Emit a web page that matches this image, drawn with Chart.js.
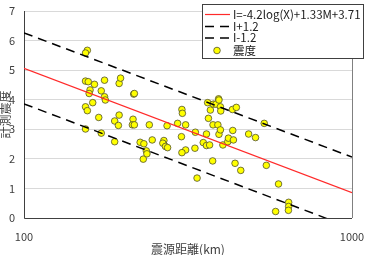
<!DOCTYPE html>
<html><head><meta charset="utf-8">
<script src="https://cdn.jsdelivr.net/npm/chart.js@4"></script>
<style>html,body{margin:0;padding:0;background:#fff}#wrap{width:365px;height:255px}</style>
</head><body><div id="wrap"><canvas id="c" width="365" height="255"></canvas></div>
<script>
// Observed data: hypocentral distance (km) and measured seismic intensity
const distances = [156,154,154,157,164,159,158,176,172,176,177,162,154,156,154,169,172,189,189,195,194,195,197,216,217,215,214,217,226,232,236,237,231,246,241,267,265,270,274,273,294,303,304,311,302,311,303,333,332,337,352,360,360,368,363,370,365,377,376,378,385,392,393,397,398,390,393,397,404,418,420,433,435,432,444,440,458,484,508,540,548,597,585,641,641,640];
const intensities = [5.67,5.58,4.63,4.61,4.52,4.33,4.21,4.66,4.30,4.10,3.99,3.90,3.76,3.63,3.01,3.40,2.87,2.58,3.28,3.48,3.13,4.55,4.73,4.19,4.21,3.34,3.15,3.15,2.56,2.51,2.27,2.17,1.99,2.64,3.15,2.62,2.53,2.42,2.38,3.12,3.20,3.67,3.54,3.15,2.75,2.30,2.21,2.90,2.36,1.35,2.55,2.84,2.45,2.47,3.90,3.65,3.37,3.15,1.93,3.85,3.85,4.03,3.99,3.76,3.62,3.15,2.83,2.98,2.47,2.58,2.70,2.96,2.64,3.67,3.74,1.85,1.61,2.84,2.72,3.20,1.78,1.15,0.22,0.53,0.39,0.26];
// Attenuation relation lines (end points)
const lineX = [100, 1000];
const meanI = [5.06, 0.86];
const upperI = [6.26, 2.06];
const lowerI = [3.86, -0.34];
const xTicks = [100, 1000];
const yTicks = [0,1,2,3,4,5,6,7];
const labels = ['I=-4.2log(X)+1.33M+3.71', 'I+1.2', 'I-1.2', '震度'];

const FONT = "'Noto Sans CJK JP', 'Noto Sans', sans-serif";
const TXT = '#404040';
const pts = (xs, ys) => xs.map((x, i) => ({x, y: ys[i]}));

const legendPlugin = {
  id: 'boxLegend',
  afterDraw(chart) {
    const ctx = chart.ctx;
    const ds = chart.data.datasets;
    const bx = 202.5, by = 4.5, bw = 161, bh = 54;
    ctx.save();
    ctx.fillStyle = '#fff';
    ctx.fillRect(bx, by, bw, bh);
    ctx.strokeStyle = '#404040';
    ctx.lineWidth = 1;
    ctx.strokeRect(bx, by, bw, bh);
    const rows = [14.5, 26.5, 38, 50.5];
    ds.forEach((d, i) => {
      const y = rows[i];
      ctx.save();
      if (d.showLine) {
        ctx.strokeStyle = d.borderColor;
        ctx.lineWidth = d.borderWidth;
        ctx.setLineDash(d.borderDash || []);
        ctx.beginPath(); ctx.moveTo(205, y); ctx.lineTo(230, y); ctx.stroke();
      } else {
        ctx.fillStyle = d.backgroundColor;
        ctx.strokeStyle = d.borderColor;
        ctx.lineWidth = d.borderWidth;
        ctx.beginPath(); ctx.arc(217, y, d.pointRadius, 0, Math.PI * 2); ctx.fill(); ctx.stroke();
      }
      ctx.restore();
      ctx.fillStyle = '#202020';
      ctx.font = '11.5px ' + FONT;
      ctx.textBaseline = 'middle';
      ctx.textAlign = 'left';
      ctx.fillText(d.label, 233, y);
    });
    ctx.restore();
  }
};

const borderPlugin = {
  id: 'areaBorder',
  beforeDatasetsDraw(chart) {
    const a = chart.chartArea, ctx = chart.ctx;
    ctx.save();
    ctx.strokeStyle = '#808080'; ctx.lineWidth = 1;
    ctx.beginPath();
    ctx.moveTo(Math.round(a.right) + 0.5, a.top); ctx.lineTo(Math.round(a.right) + 0.5, a.bottom);
    ctx.stroke();
    ctx.strokeStyle = '#404040';
    ctx.beginPath();
    ctx.moveTo(Math.round(a.left) + 0.5, a.top); ctx.lineTo(Math.round(a.left) + 0.5, a.bottom + 0.5);
    ctx.lineTo(a.right, Math.round(a.bottom) + 0.5);
    ctx.stroke();
    ctx.restore();
  }
};

new Chart(document.getElementById('c'), {
  type: 'scatter',
  data: {
    datasets: [
      {label: labels[0], data: pts(lineX, meanI), showLine: true, borderColor: '#ff2a2a', borderWidth: 1.2, pointRadius: 0, fill: false},
      {label: labels[1], data: pts(lineX, upperI), showLine: true, borderColor: '#000', borderWidth: 1.5, borderDash: [9, 6], pointRadius: 0, fill: false},
      {label: labels[2], data: pts(lineX, lowerI), showLine: true, borderColor: '#000', borderWidth: 1.5, borderDash: [9, 6], pointRadius: 0, fill: false},
      {label: labels[3], data: pts(distances, intensities), showLine: false, backgroundColor: '#ffff00', borderColor: '#505030', borderWidth: 0.8, pointRadius: 3.3}
    ]
  },
  options: {
    responsive: false,
    animation: false,
    devicePixelRatio: 1,
    layout: {padding: {left: 0, right: 13, top: 11, bottom: 0}},
    plugins: {legend: {display: false}, tooltip: {enabled: false}},
    scales: {
      x: {
        type: 'logarithmic', min: 100, max: 1000,
        afterBuildTicks: s => { s.ticks = xTicks.map(v => ({value: v})); },
        afterFit: s => { s.height = 37; s.paddingLeft = 0; s.paddingRight = 0; },
        grid: {display: false, drawTicks: false},
        border: {display: false},
        ticks: {color: TXT, font: {family: FONT, size: 11}, padding: 12, maxRotation: 0, autoSkip: false, callback: v => String(v)},
        title: {display: true, text: '震源距離(km)', color: TXT, font: {family: FONT, size: 12, lineHeight: 1}, padding: {top: 0, bottom: 0}}
      },
      y: {
        min: 0, max: 7,
        afterBuildTicks: s => { s.ticks = yTicks.map(v => ({value: v})); },
        afterFit: s => { s.width = 24; s.paddingTop = 0; s.paddingBottom = 0; },
        grid: {color: '#d9d9d9', lineWidth: 1, drawTicks: false},
        border: {display: false},
        ticks: {color: TXT, font: {family: FONT, size: 11}, padding: 9},
        title: {display: true, text: '計測震度', color: TXT, font: {family: FONT, size: 12, lineHeight: 1}, padding: {top: -1, bottom: 0}}
      }
    }
  },
  plugins: [borderPlugin, legendPlugin]
});
</script>
</body></html>
